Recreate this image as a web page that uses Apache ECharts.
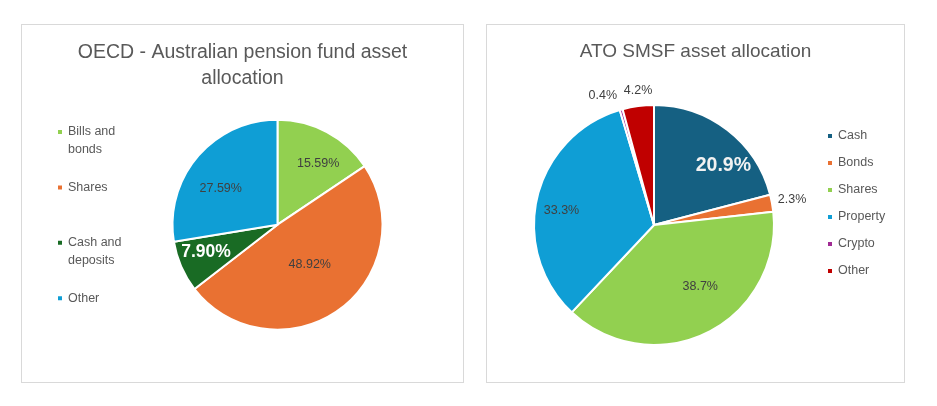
<!DOCTYPE html>
<html>
<head>
<meta charset="utf-8">
<script src="https://cdn.jsdelivr.net/npm/echarts@6/dist/echarts.min.js"></script>
<style>
    body { margin: 0; background: #fff; }
    .panel { position: absolute; top: 24px; height: 357px; border: 1px solid #d9d9d9; }
    #oecd { left: 21px; width: 441px; }
    #ato { left: 486px; width: 417px; }
</style>
</head>
<body>
<div class="panel" id="oecd"></div>
<div class="panel" id="ato"></div>
<script>
// Data
const oecdNames = ['Bills and bonds', 'Shares', 'Cash and deposits', 'Other']
const oecdValues = [15.59, 48.92, 7.9, 27.59]
const atoNames = ['Cash', 'Bonds', 'Shares', 'Property', 'Crypto', 'Other']
const atoValues = [20.9, 2.3, 38.7, 33.3, 0.4, 4.2]

const oecdColors = ['#92D050', '#E97132', '#196B24', '#0F9ED5']
const atoColors = ['#156082', '#E97132', '#92D050', '#0F9ED5', '#A02B93', '#C00000']

const FONT = '"Liberation Sans", Arial, sans-serif'

// label placement (excel "best fit"): [radius fraction, angle shift in deg]
const oecdLabelPos = [[0.7, 5.5], [0.49, -3], [0.73, 2.5], [0.64, -8]]
const atoLabelPos = [[0.76, 11.8], [1.17, 0], [0.64, -10.5], [0.78, -4.6], [1.16, -5.7], [1.13, 0.8]]

// move the inside label along its own angle
function makeLabelLayout(center, radius, pos) {
    return function (params) {
        let r = params.labelRect
        let lx = r.x + r.width / 2 - center[0]
        let ly = r.y + r.height / 2 - center[1]
        let p = pos[params.dataIndex]
        let a = Math.atan2(lx, -ly) + (p[1] * Math.PI) / 180
        return {
            x: center[0] + p[0] * radius * Math.sin(a),
            y: center[1] - p[0] * radius * Math.cos(a),
            align: 'center',
            verticalAlign: 'middle',
        }
    }
}

function paintPie(dom, cfg) {
    let myChart = echarts.init(dom)
    let option = {
        animation: false,
        color: cfg.colors,
        title: {
            text: cfg.title,
            left: 'center',
            top: cfg.titleTop,
            padding: 0,
            textStyle: {
                fontFamily: FONT,
                fontSize: cfg.titleSize,
                fontWeight: 'normal',
                color: '#595959',
                lineHeight: 26,
            },
        },
        legend: {
            orient: 'vertical',
            left: cfg.legendLeft,
            top: cfg.legendTop,
            padding: 0,
            itemGap: cfg.legendGap,
            icon: 'rect',
            itemWidth: 6,
            itemHeight: 6,
            selectedMode: false,
            formatter: cfg.legendFormatter,
            textStyle: {
                fontFamily: FONT,
                fontSize: 12.5,
                color: '#595959',
                lineHeight: cfg.legendLineHeight,
                padding: 0,
            },
            data: cfg.names,
        },
        series: [
            {
                type: 'pie',
                center: cfg.center,
                radius: cfg.radius,
                startAngle: 90,
                clockwise: true,
                avoidLabelOverlap: false,
                emphasis: { disabled: true },
                itemStyle: { borderColor: '#fff', borderWidth: 2 },
                label: {
                    show: true,
                    position: 'inside',
                    fontFamily: FONT,
                    fontSize: 12.5,
                    color: '#404040',
                    formatter: (p) => p.value.toFixed(cfg.decimals) + '%',
                },
                labelLine: { show: false },
                labelLayout: makeLabelLayout(cfg.center, cfg.radius, cfg.labelPos),
                data: cfg.names.map((name, i) => ({
                    name: name,
                    value: cfg.values[i],
                    label: name === cfg.bigName ? { fontSize: cfg.bigSize, fontWeight: 'bold', color: cfg.bigColor } : undefined,
                })),
            },
        ],
    }
    myChart.setOption(option)
}

paintPie(document.querySelector('#oecd'), {
    title: 'OECD - Australian pension fund asset\nallocation',
    titleTop: 15,
    titleSize: 19.5,
    names: oecdNames,
    values: oecdValues,
    colors: oecdColors,
    center: [255.5, 199.7],
    radius: 105,
    decimals: 2,
    labelPos: oecdLabelPos,
    bigName: 'Cash and deposits',
    bigSize: 17.5,
    bigColor: '#ffffff',
    legendLeft: 34,
    legendTop: 80,
    legendGap: 19.4,
    legendLineHeight: 18,
    // marker sits on the first line of a wrapped name
    legendFormatter: (name) => (name.includes(' and ') ? '\n' + name.replace(' and ', ' and\n') : name),
})

paintPie(document.querySelector('#ato'), {
    title: 'ATO SMSF asset allocation',
    titleTop: 13.7,
    titleSize: 19,
    names: atoNames,
    values: atoValues,
    colors: atoColors,
    center: [167, 200],
    radius: 120,
    decimals: 1,
    labelPos: atoLabelPos,
    bigName: 'Cash',
    bigSize: 19.5,
    bigColor: '#f2f2f2',
    legendLeft: 339,
    legendTop: 103.5,
    legendGap: 12,
    legendLineHeight: 15,
    legendFormatter: (name) => name,
})
</script>
</body>
</html>
